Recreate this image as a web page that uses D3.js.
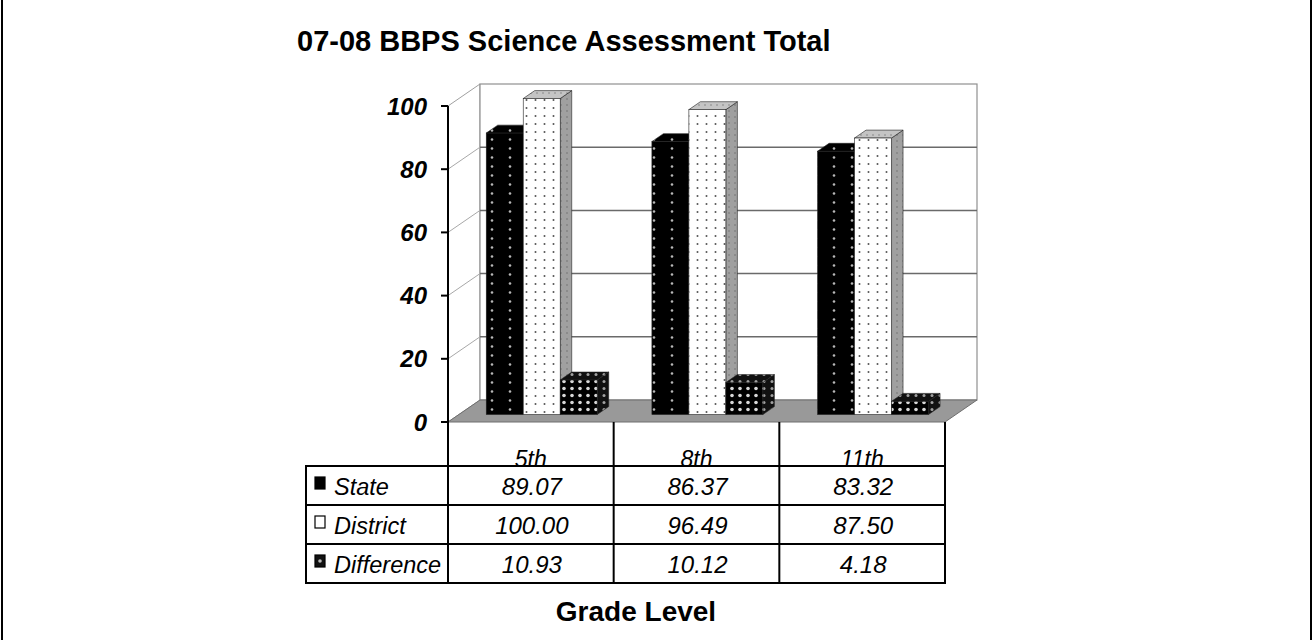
<!DOCTYPE html>
<html><head><meta charset="utf-8">
<script src="https://cdn.jsdelivr.net/npm/d3@7"></script>
<style>body{margin:0;background:#fff} svg{display:block} text{font-family:"Liberation Sans",Arial,sans-serif}</style>
</head><body><svg id="c" width="1312" height="640"></svg>
<script>
const categories = ["5th", "8th", "11th"];
const seriesNames = ["State", "District", "Difference"];
const stateValues = [89.07, 86.37, 83.32];
const districtValues = [100.00, 96.49, 87.50];
const differenceValues = [10.93, 10.12, 4.18];
const yTicks = [0, 20, 40, 60, 80, 100];
const chartTitle = "07-08 BBPS Science Assessment Total";
const xAxisTitle = "Grade Level";

const seriesValues = [stateValues, districtValues, differenceValues];
const svg = d3.select("#c");

// 3D geometry
const wallDX = 32, wallDY = -22;
const barFrontT = 0.34, barBackT = 0.70;
const y = d3.scaleLinear().domain([0, 100]).range([422, 106]);
const x0 = d3.scaleBand().domain(categories).range([448, 945]).padding(0);
const x1 = d3.scaleBand().domain(seriesNames).range([0, x0.bandwidth()]).paddingInner(0).paddingOuter(0.74);

// outer border (left/right)
svg.append("line").attr("x1", 2).attr("x2", 2).attr("y1", 0).attr("y2", 640).attr("stroke", "#000").attr("stroke-width", 2);
svg.append("line").attr("x1", 1311).attr("x2", 1311).attr("y1", 0).attr("y2", 640).attr("stroke", "#000").attr("stroke-width", 2);

// patterns
const defs = svg.append("defs");
function pattern(id, w, h, bg, dots) {
  const p = defs.append("pattern").attr("id", id).attr("patternUnits", "userSpaceOnUse").attr("width", w).attr("height", h);
  p.append("rect").attr("width", w).attr("height", h).attr("fill", bg);
  dots.forEach(d => p.append("circle").attr("cx", d[0]).attr("cy", d[1]).attr("r", d[2]).attr("fill", d[3]));
}
pattern("pState", 18, 9, "#000", [[6, 4.5, 1.3, "#b8b8b8"]]);
pattern("pDistrict", 9, 8, "#fff", [[4.5, 4, 1.0, "#555"]]);
pattern("pDistrictSide", 6, 6, "#a0a0a0", [[3, 3, 0.8, "#707070"]]);
pattern("pDistrictTop", 6, 6, "#c4c4c4", [[3, 3, 0.8, "#808080"]]);
pattern("pDiff", 8, 7, "#000", [[4, 3.5, 1.8, "#d8d8d8"]]);
pattern("pDiffSide", 8, 7, "#111", [[4, 3.5, 1.5, "#a0a0a0"]]);
const faceFill = [
  {front: "url(#pState)", top: "url(#pState)", side: "url(#pState)"},
  {front: "url(#pDistrict)", top: "url(#pDistrictTop)", side: "url(#pDistrictSide)"},
  {front: "url(#pDiff)", top: "url(#pDiffSide)", side: "url(#pDiffSide)"}
];

// walls
const bx0 = 448 + wallDX, bx1 = 945 + wallDX;
const yTop = y(100), yBot = y(0);
svg.append("polygon")
  .attr("points", [[448, yTop], [bx0, yTop + wallDY], [bx0, yBot + wallDY], [448, yBot]].join(" "))
  .attr("fill", "#fff").attr("stroke", "#a0a0a0").attr("stroke-width", 1);
svg.append("rect").attr("x", bx0).attr("y", yTop + wallDY).attr("width", bx1 - bx0).attr("height", yBot - yTop)
  .attr("fill", "#fff").attr("stroke", "#909090").attr("stroke-width", 1.2);
yTicks.filter(t => t > 0 && t < 100).forEach(t => {
  svg.append("line").attr("x1", 448).attr("y1", y(t)).attr("x2", bx0).attr("y2", y(t) + wallDY).attr("stroke", "#a8a8a8").attr("stroke-width", 1);
  svg.append("line").attr("x1", bx0).attr("y1", y(t) + wallDY).attr("x2", bx1).attr("y2", y(t) + wallDY).attr("stroke", "#6a6a6a").attr("stroke-width", 1.5);
});
// floor
svg.append("polygon")
  .attr("points", [[448, yBot], [945, yBot], [bx1, yBot + wallDY], [bx0, yBot + wallDY]].join(" "))
  .attr("fill", "#999").attr("stroke", "#6e6e6e").attr("stroke-width", 1);

// bars
const fdx = wallDX * barFrontT, fdy = wallDY * barFrontT;
const bdx = wallDX * (barBackT - barFrontT), bdy = wallDY * (barBackT - barFrontT);
const w = x1.bandwidth();
categories.forEach((c, ci) => {
  seriesNames.forEach((s, si) => {
    const v = seriesValues[si][ci];
    const xf = x0(c) + x1(s) + fdx;
    const yb = y(0) + fdy, yt = y(v) + fdy;
    const g = svg.append("g");
    g.append("polygon").attr("points", [[xf + w, yt], [xf + w + bdx, yt + bdy], [xf + w + bdx, yb + bdy], [xf + w, yb]].join(" "))
      .attr("fill", faceFill[si].side).attr("stroke", "#222").attr("stroke-width", 0.6);
    g.append("polygon").attr("points", [[xf, yt], [xf + w, yt], [xf + w + bdx, yt + bdy], [xf + bdx, yt + bdy]].join(" "))
      .attr("fill", faceFill[si].top).attr("stroke", "#222").attr("stroke-width", 0.6);
    g.append("rect").attr("x", xf).attr("y", yt).attr("width", w).attr("height", yb - yt)
      .attr("fill", faceFill[si].front).attr("stroke", "#222").attr("stroke-width", 0.6);
  });
});

// y axis
svg.append("line").attr("x1", 448).attr("x2", 448).attr("y1", yTop).attr("y2", yBot).attr("stroke", "#000").attr("stroke-width", 2);
yTicks.forEach(t => {
  svg.append("line").attr("x1", 441).attr("x2", 448).attr("y1", y(t)).attr("y2", y(t)).attr("stroke", "#000").attr("stroke-width", 2);
  svg.append("text").attr("x", 427).attr("y", y(t)).attr("dy", "0.36em").attr("text-anchor", "end")
    .attr("font-size", 24).attr("font-weight", "bold").attr("font-style", "italic").text(t);
});

// category labels
categories.forEach(c => {
  svg.append("text").attr("x", x0(c) + x0.bandwidth() / 2).attr("y", 467).attr("text-anchor", "middle")
    .attr("font-size", 23).attr("font-style", "italic").text(c);
});

// data table
const tLeft = 306, tTop = 466, rowH = 39;
const tRight = 945, tBottom = tTop + rowH * seriesNames.length;
svg.append("rect").attr("x", tLeft).attr("y", tTop).attr("width", tRight - tLeft).attr("height", tBottom - tTop)
  .attr("fill", "none").attr("stroke", "#000").attr("stroke-width", 2);
seriesNames.forEach((s, si) => {
  const rt = tTop + rowH * si;
  if (si > 0) svg.append("line").attr("x1", tLeft).attr("x2", tRight).attr("y1", rt).attr("y2", rt).attr("stroke", "#000").attr("stroke-width", 2);
  const key = svg.append("rect").attr("x", 315).attr("y", rt + 11).attr("width", 10).attr("height", 12)
    .attr("stroke", "#000").attr("stroke-width", 1.2);
  if (si === 0) key.attr("fill", "#000");
  else if (si === 1) key.attr("fill", "#fff");
  else { key.attr("fill", "#111"); svg.append("circle").attr("cx", 320).attr("cy", rt + 17).attr("r", 1.8).attr("fill", "#bbb"); }
  svg.append("text").attr("x", 334).attr("y", rt + 28.5).attr("font-size", 23.5).attr("font-style", "italic").text(s);
  categories.forEach((c, ci) => {
    svg.append("text").attr("x", x0(c) + x0.bandwidth() / 2 + 1).attr("y", rt + 28.5).attr("text-anchor", "middle")
      .attr("font-size", 24).attr("font-style", "italic").text(d3.format(".2f")(seriesValues[si][ci]));
  });
});
[448, ...categories.map(c => x0(c) + x0.bandwidth())].forEach(xx => {
  svg.append("line").attr("x1", xx).attr("x2", xx).attr("y1", yBot).attr("y2", tBottom).attr("stroke", "#000").attr("stroke-width", 2);
});

// titles
svg.append("text").attr("x", 297).attr("y", 51).attr("font-size", 29).attr("font-weight", "bold").text(chartTitle);
svg.append("text").attr("x", 636).attr("y", 621).attr("text-anchor", "middle").attr("font-size", 28).attr("font-weight", "bold").text(xAxisTitle);
</script></body></html>
